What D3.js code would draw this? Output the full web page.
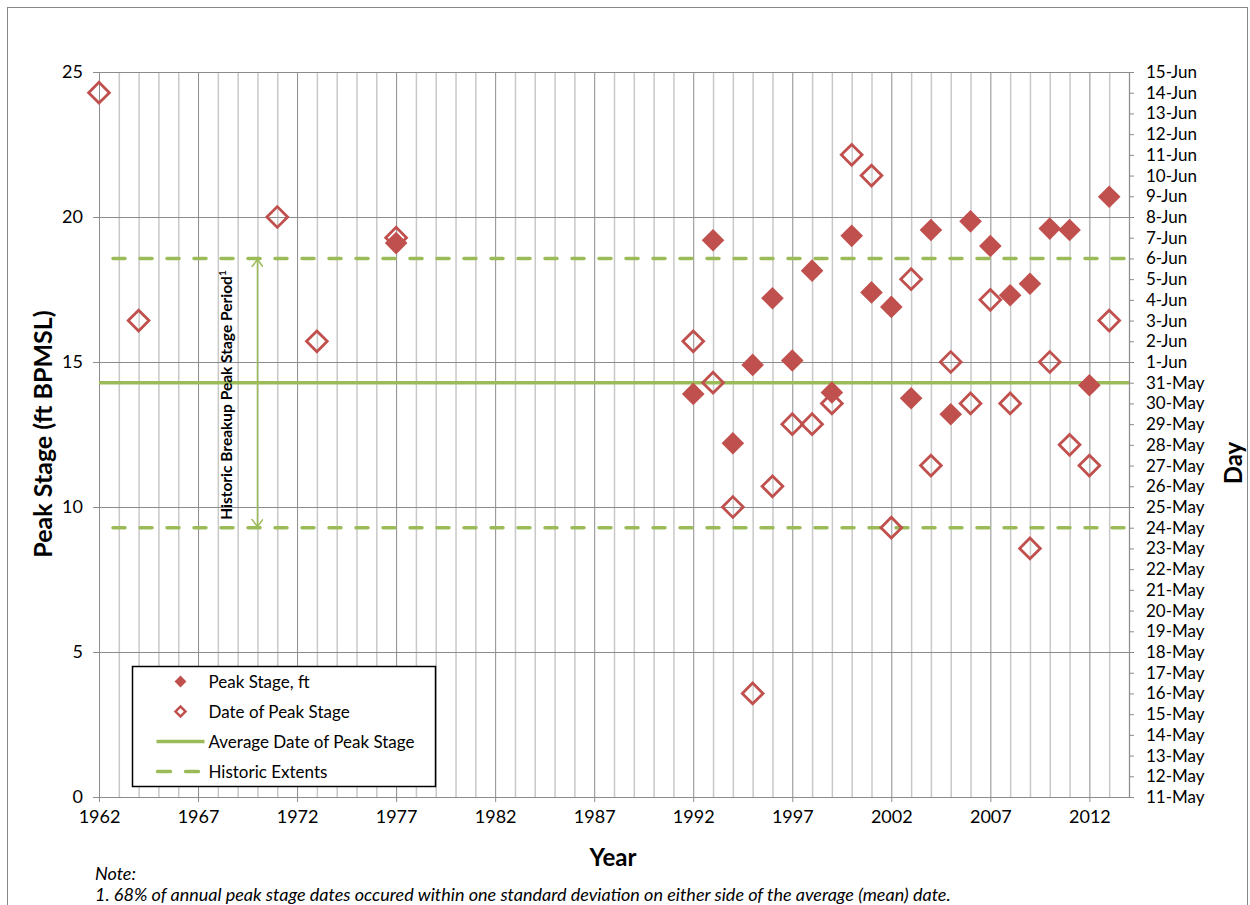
<!DOCTYPE html>
<html>
<head>
<meta charset="utf-8">
<script src="https://cdn.jsdelivr.net/npm/d3@7"></script>
<style>
  body { margin: 0; background: #fff; }
  svg { display: block; font-family: Lato, "Liberation Sans", sans-serif; }
</style>
</head>
<body>
<div id="chart"></div>
<script>
// Peak stage (left axis, ft BPMSL)
const stageYears = [1977, 1992, 1993, 1994, 1995, 1996, 1997, 1998, 1999, 2000, 2001, 2002,
                    2003, 2004, 2005, 2006, 2007, 2008, 2009, 2010, 2011, 2012, 2013];
const peakStage = [19.1, 13.9, 19.2, 12.2, 14.9, 17.2, 15.05, 18.15, 13.95, 19.35, 17.4, 16.9,
                   13.75, 19.55, 13.2, 19.85, 19.0, 17.3, 17.7, 19.6, 19.55, 14.2, 20.7];

// Date of peak stage (right axis)
const dateYears = [1962, 1964, 1971, 1973, 1977, 1992, 1993, 1994, 1995, 1996, 1997, 1998, 1999,
                   2000, 2001, 2002, 2003, 2004, 2005, 2006, 2007, 2008, 2009, 2010, 2011, 2012, 2013];
const peakDates = ["14-Jun", "3-Jun", "8-Jun", "2-Jun", "7-Jun", "2-Jun", "31-May", "25-May", "16-May",
                   "26-May", "29-May", "29-May", "30-May", "11-Jun", "10-Jun", "24-May", "5-Jun", "27-May",
                   "1-Jun", "30-May", "4-Jun", "30-May", "23-May", "1-Jun", "28-May", "27-May", "3-Jun"];

const averageDate = "31-May";
const historicExtents = ["24-May", "6-Jun"];

const yearTicks = [1962, 1967, 1972, 1977, 1982, 1987, 1992, 1997, 2002, 2007, 2012];
const stageTicks = [0, 5, 10, 15, 20, 25];
const dayRange = ["11-May", "15-Jun"];

const legendItems = ["Peak Stage, ft", "Date of Peak Stage", "Average Date of Peak Stage", "Historic Extents"];

const RED = '#C0504D';
const GREEN = '#9BBB59';

const parseDay = s => d3.utcParse('%d-%b-%Y')(s + '-2013');

const width = 1250, height = 905;
const margin = { left: 99, right: 121, top: 72, bottom: 108 };
const plotW = width - margin.left - margin.right;
const plotH = height - margin.top - margin.bottom;

const svg = d3.select('#chart').append('svg')
    .attr('width', width)
    .attr('height', height);

// chart border
svg.append('rect')
    .attr('x', 7.5).attr('y', 7.5)
    .attr('width', 1240).attr('height', 1000)
    .attr('fill', 'none')
    .attr('stroke', '#888');

const g = svg.append('g').attr('transform', `translate(${margin.left},${margin.top})`);

const x = d3.scaleLinear().domain([1962, 2014]).range([0, plotW]);
const y = d3.scaleLinear().domain([0, 25]).range([plotH, 0]);
const yDay = d3.scaleUtc().domain(dayRange.map(parseDay)).range([plotH, 0]);

// vertical gridlines, one per year
const years = d3.range(1962, 2015);
g.append('g').selectAll('line')
    .data(years.filter(yr => (yr - 1962) % 5 !== 0))
    .enter().append('line')
    .attr('x1', d => x(d) + 0.5).attr('x2', d => x(d) + 0.5)
    .attr('y1', 0).attr('y2', plotH)
    .attr('stroke', '#c8c8c8').attr('stroke-width', 1.5);
g.append('g').selectAll('line')
    .data(years.filter(yr => (yr - 1962) % 5 === 0))
    .enter().append('line')
    .attr('x1', d => x(d) + 0.5).attr('x2', d => x(d) + 0.5)
    .attr('y1', 0).attr('y2', plotH)
    .attr('stroke', '#8c8c8c').attr('stroke-width', 1);

// horizontal gridlines
g.append('g').selectAll('line')
    .data(stageTicks)
    .enter().append('line')
    .attr('x1', 0).attr('x2', plotW)
    .attr('y1', d => y(d) + 0.5).attr('y2', d => y(d) + 0.5)
    .attr('stroke', '#8c8c8c');

// axes
const axisStyle = sel => {
    sel.select('.domain').attr('stroke', '#8c8c8c');
    sel.selectAll('.tick line').attr('stroke', '#8c8c8c');
    sel.selectAll('.tick text').attr('fill', '#000').style('font-family', 'Lato, sans-serif');
};

g.append('g')
    .call(d3.axisLeft(y).tickValues(stageTicks).tickSize(6).tickPadding(10).tickSizeOuter(0))
    .call(axisStyle)
    .selectAll('.tick text').style('font-size', '18px');

g.append('g')
    .attr('transform', `translate(0,${plotH})`)
    .call(d3.axisBottom(x).tickValues(yearTicks).tickFormat(d3.format('d')).tickSize(5).tickPadding(8).tickSizeOuter(0))
    .call(axisStyle)
    .selectAll('.tick text').style('font-size', '18px');

g.append('g')
    .attr('transform', `translate(${plotW},0)`)
    .call(d3.axisRight(yDay).ticks(d3.utcDay.every(1)).tickFormat(d3.utcFormat('%-d-%b')).tickSize(5).tickPadding(12).tickSizeOuter(0))
    .call(axisStyle)
    .selectAll('.tick text').style('font-size', '17px');

// average and extents lines
g.append('line')
    .attr('x1', 0).attr('x2', plotW)
    .attr('y1', yDay(parseDay(averageDate))).attr('y2', yDay(parseDay(averageDate)))
    .attr('stroke', GREEN).attr('stroke-width', 3.5);

g.append('g').selectAll('line')
    .data(historicExtents)
    .enter().append('line')
    .attr('x1', 14).attr('x2', plotW)
    .attr('y1', d => yDay(parseDay(d))).attr('y2', d => yDay(parseDay(d)))
    .attr('stroke', GREEN).attr('stroke-width', 3.5)
    .attr('stroke-dasharray', '12,15')
    .attr('stroke-linecap', 'round');

// annotation arrow
const defs = svg.append('defs');
defs.append('marker')
    .attr('id', 'chev')
    .attr('viewBox', '0 -6 8 12')
    .attr('refX', 8).attr('refY', 0)
    .attr('markerWidth', 8).attr('markerHeight', 12)
    .attr('markerUnits', 'userSpaceOnUse')
    .attr('orient', 'auto-start-reverse')
    .append('path')
    .attr('d', 'M0,-6L8,0L0,6')
    .attr('fill', 'none')
    .attr('stroke', GREEN)
    .attr('stroke-width', 1.5);

const arrowX = x(1970);
g.append('line')
    .attr('x1', arrowX).attr('x2', arrowX)
    .attr('y1', yDay(parseDay(historicExtents[1])) + 1)
    .attr('y2', yDay(parseDay(historicExtents[0])) - 1)
    .attr('stroke', GREEN).attr('stroke-width', 1.5)
    .attr('marker-start', 'url(#chev)')
    .attr('marker-end', 'url(#chev)');

const annotation = g.append('text')
    .attr('transform', `translate(${arrowX - 25},${(yDay(parseDay(historicExtents[0])) + yDay(parseDay(historicExtents[1]))) / 2 + 2}) rotate(-90)`)
    .attr('text-anchor', 'middle')
    .style('font-size', '15.5px')
    .style('font-weight', 'bold')
    .attr('fill', '#000');
annotation.append('tspan').text('Historic Breakup Peak Stage Period');
annotation.append('tspan').attr('dy', -6).style('font-size', '10px').text('1');

// markers
const diamond = size => d3.symbol().type(d3.symbolSquare).size(size)();

const dates = dateYears.map((yr, i) => ({ year: yr, date: parseDay(peakDates[i]) }));
g.append('g').selectAll('path')
    .data(dates)
    .enter().append('path')
    .attr('d', diamond(215))
    .attr('transform', d => `translate(${x(d.year)},${yDay(d.date)}) rotate(45)`)
    .attr('fill', 'none')
    .attr('stroke', RED)
    .attr('stroke-width', 2.8);

const stages = stageYears.map((yr, i) => ({ year: yr, value: peakStage[i] }));
g.append('g').selectAll('path')
    .data(stages)
    .enter().append('path')
    .attr('d', diamond(256))
    .attr('transform', d => `translate(${x(d.year)},${y(d.value)}) rotate(45)`)
    .attr('fill', RED);

// axis titles
svg.append('text')
    .attr('transform', 'translate(52,434) rotate(-90)')
    .attr('text-anchor', 'middle')
    .style('font-size', '25px').style('font-weight', 'bold')
    .text('Peak Stage (ft BPMSL)');

svg.append('text')
    .attr('x', 613).attr('y', 866)
    .attr('text-anchor', 'middle')
    .style('font-size', '24px').style('font-weight', 'bold')
    .text('Year');

svg.append('text')
    .attr('transform', 'translate(1242,463) rotate(-90)')
    .attr('text-anchor', 'middle')
    .style('font-size', '24px').style('font-weight', 'bold')
    .text('Day');

// legend
const legend = svg.append('g').attr('transform', 'translate(132.5,666.5)');
legend.append('rect')
    .attr('width', 303).attr('height', 120)
    .attr('fill', '#fff')
    .attr('stroke', '#000').attr('stroke-width', 1.5);

const rows = legend.selectAll('g.row')
    .data(legendItems)
    .enter().append('g')
    .attr('class', 'row')
    .attr('transform', (d, i) => `translate(0,${15 + i * 30})`);

rows.append('text')
    .attr('x', 76).attr('y', 6)
    .style('font-size', '17px')
    .text(d => d);

rows.filter((d, i) => i === 0).append('path')
    .attr('d', diamond(70))
    .attr('transform', 'translate(48,0) rotate(45)')
    .attr('fill', RED);
rows.filter((d, i) => i === 1).append('path')
    .attr('d', diamond(50))
    .attr('transform', 'translate(48,0) rotate(45)')
    .attr('fill', 'none').attr('stroke', RED).attr('stroke-width', 2.5);
rows.filter((d, i) => i === 2).append('line')
    .attr('x1', 24).attr('x2', 72)
    .attr('stroke', GREEN).attr('stroke-width', 3.5);
rows.filter((d, i) => i === 3).append('line')
    .attr('x1', 25).attr('x2', 66)
    .attr('stroke', GREEN).attr('stroke-width', 3.5)
    .attr('stroke-dasharray', '13,15')
    .attr('stroke-linecap', 'round');

// note
svg.append('text')
    .attr('x', 95).attr('y', 880)
    .style('font-size', '18px').style('font-style', 'italic')
    .text('Note:');
svg.append('text')
    .attr('x', 95).attr('y', 901)
    .style('font-size', '18px').style('font-style', 'italic')
    .text('1. 68% of annual peak stage dates occured within one standard deviation on either side of the average (mean) date.');
</script>
</body>
</html>
